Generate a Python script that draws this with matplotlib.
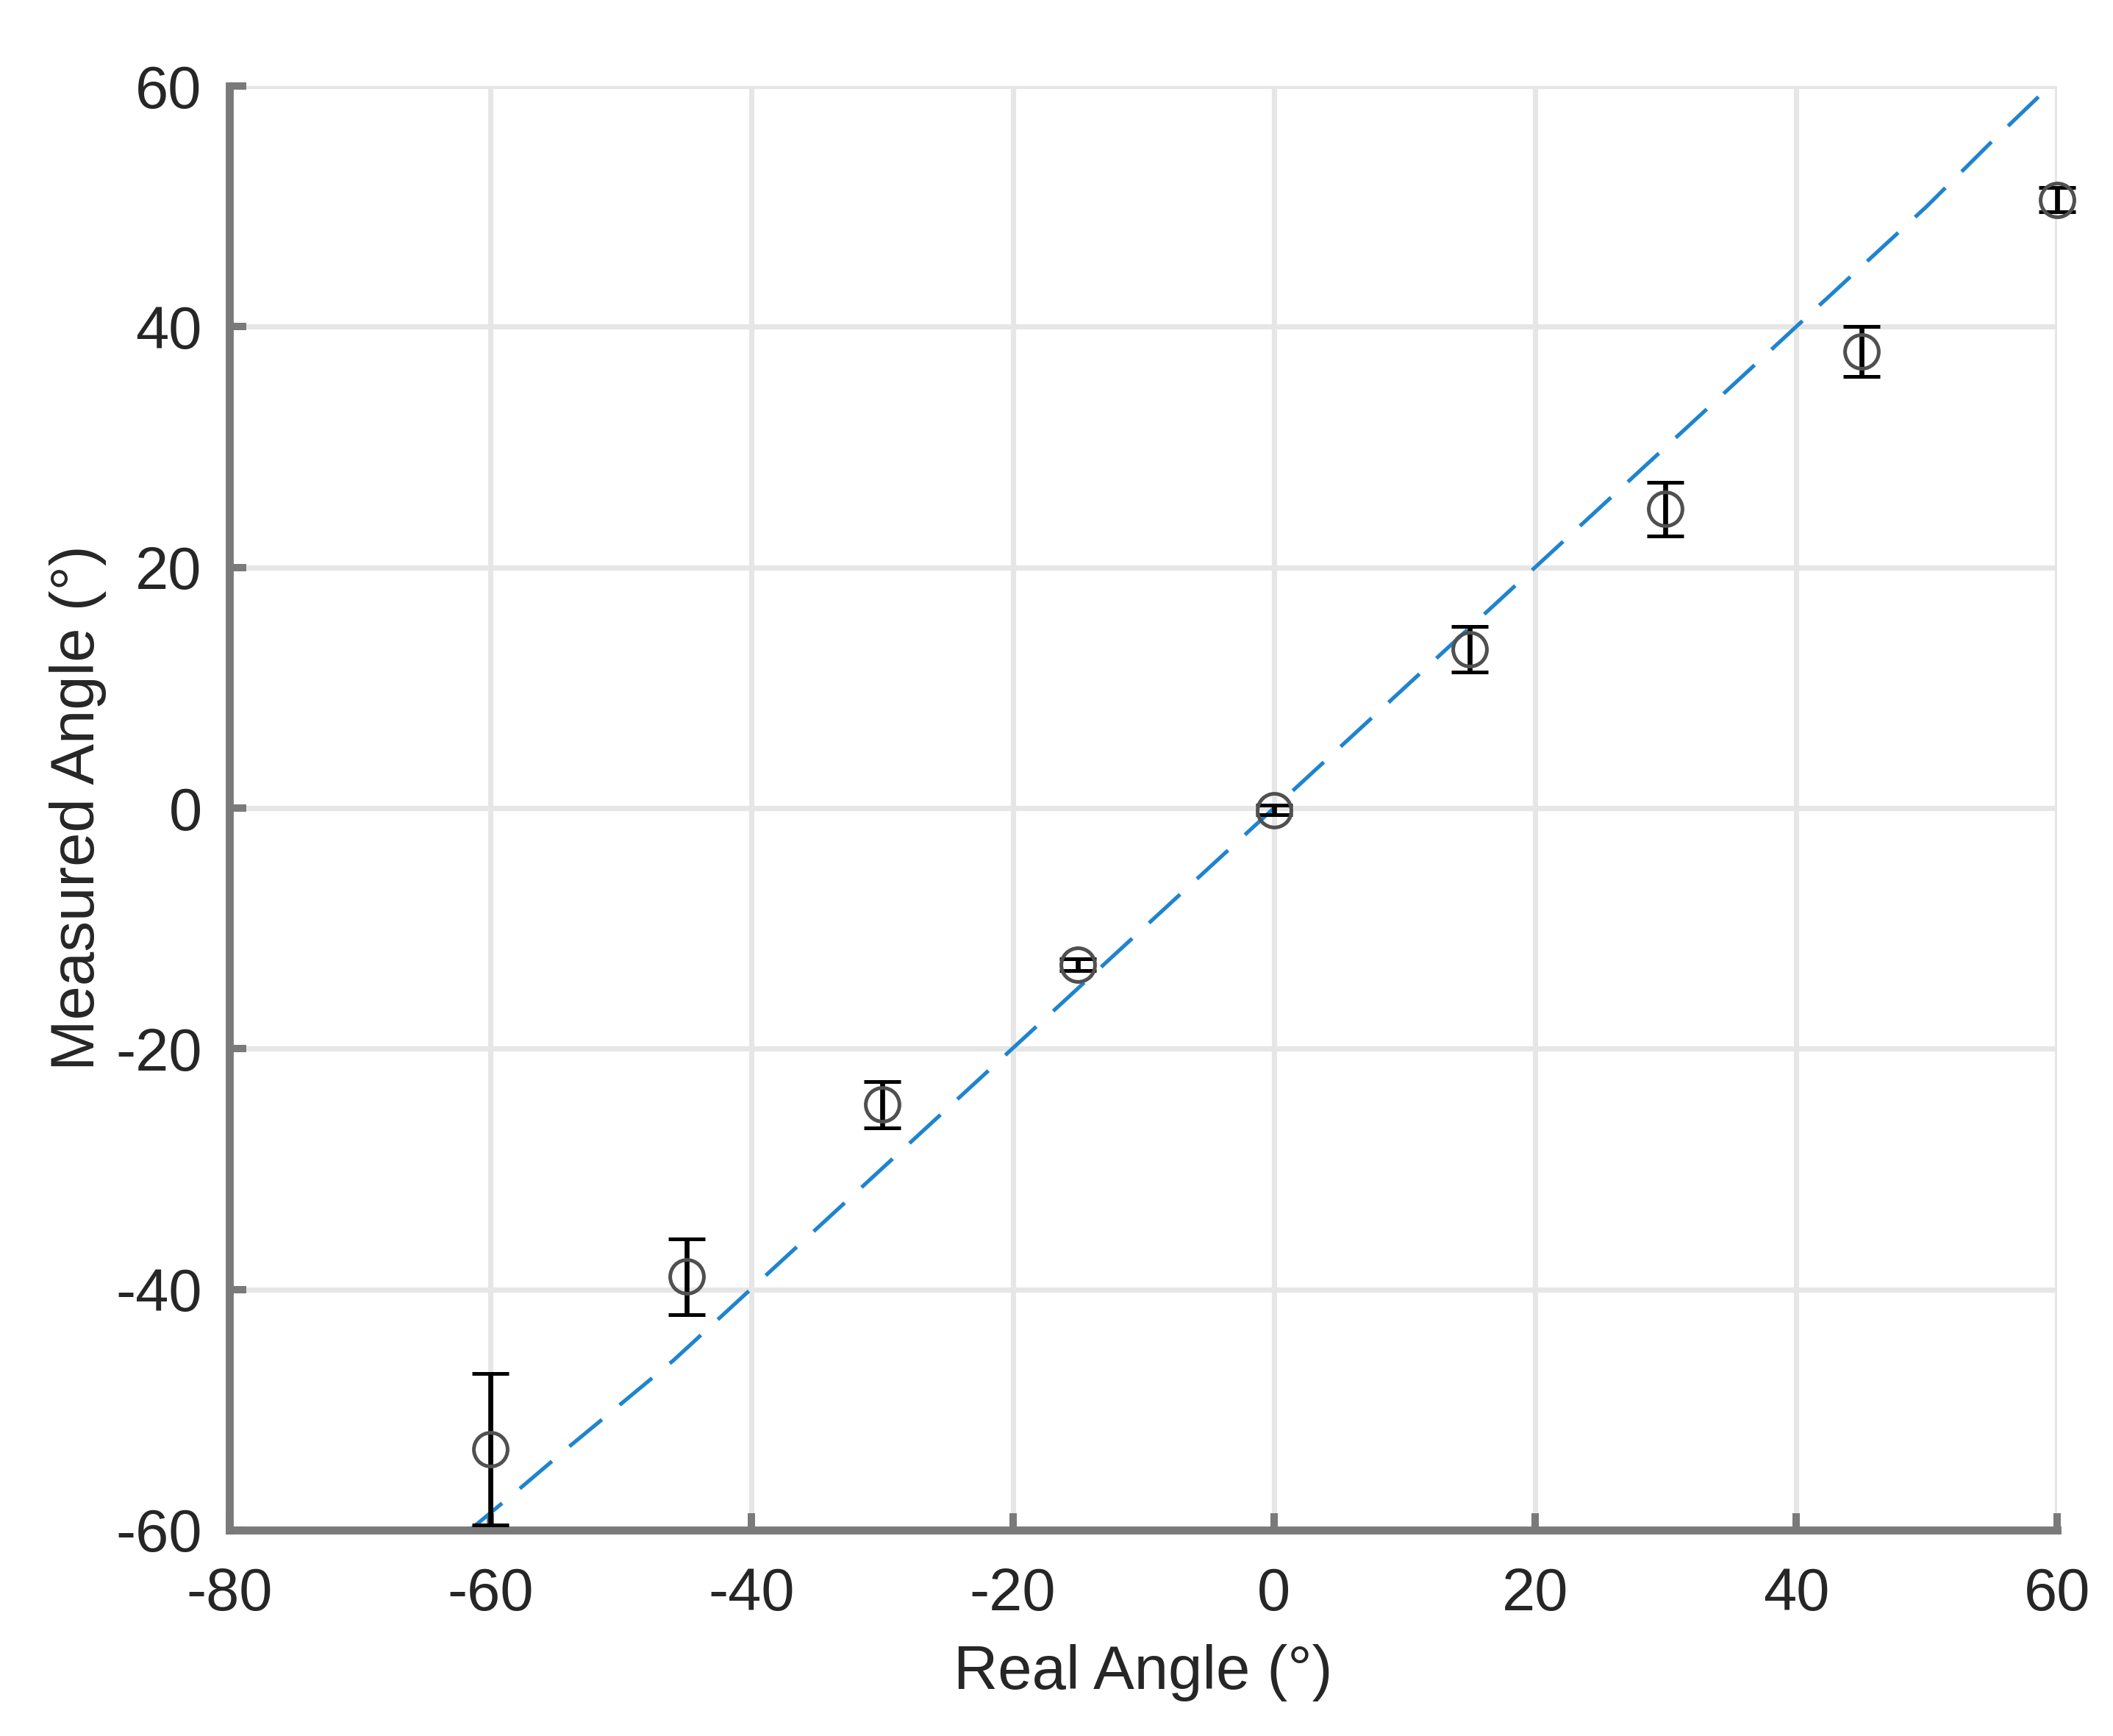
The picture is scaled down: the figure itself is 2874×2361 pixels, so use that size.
import numpy as np
import matplotlib.pyplot as plt

plt.rcParams['font.family'] = ['Liberation Sans', 'DejaVu Sans']
plt.rcParams['axes.unicode_minus'] = False

real_angle = [-60, -45, -30, -15, 0, 15, 30, 45, 60]
measured_angle = [-53.3, -38.95, -24.65, -13.0, -0.15, 13.2, 24.85, 37.95, 50.55]
measured_err = [6.3, 3.15, 1.95, 0.5, 0.4, 1.9, 2.25, 2.05, 1.0]

# dashed reference curve
ideal_x = [-61.6, -57.6, -53.8, -50, -46, 0, 50, 55, 60]
ideal_y = [-60, -56.4, -52.9, -49.5, -45.9, 0, 50, 55.4, 60.6]

x_ticks = np.arange(-80, 61, 20)
y_ticks = np.arange(-60, 61, 20)

fig = plt.figure(figsize=(9.58, 7.87), dpi=300)
ax = fig.add_axes([0.1086, 0.1186, 0.865, 0.8318])

ax.plot(ideal_x, ideal_y, linestyle=(0, (11, 6)), color='#1f84cf', linewidth=1.25, zorder=2)
ax.errorbar(real_angle, measured_angle, yerr=measured_err, fmt='o', markersize=11,
            markerfacecolor='none', markeredgecolor='#505050', markeredgewidth=1.2,
            ecolor='black', elinewidth=1.6, capsize=6, capthick=2.2, zorder=3,
            clip_on=False)

ax.set_xlim(-80, 60)
ax.set_ylim(-60, 60)
ax.set_xticks(x_ticks)
ax.set_yticks(y_ticks)
ax.grid(True, color='#e6e6e6', linewidth=1.7)
ax.set_axisbelow(True)

for side in ['top', 'right']:
    ax.spines[side].set_visible(False)
for side in ['left', 'bottom']:
    ax.spines[side].set_color('#7a7a7a')
    ax.spines[side].set_linewidth(2.6)

ax.tick_params(direction='in', length=5.5, width=2.4, color='#7a7a7a',
               labelsize=19.5, labelcolor='#262626')
ax.tick_params(axis='x', pad=12)
ax.tick_params(axis='y', pad=9)
ax.set_xlabel('Real Angle (°)', fontsize=20, color='#262626', labelpad=7)
ax.set_ylabel('Measured Angle (°)', fontsize=20, color='#262626', labelpad=3)

fig.savefig('out.png', dpi=300)
